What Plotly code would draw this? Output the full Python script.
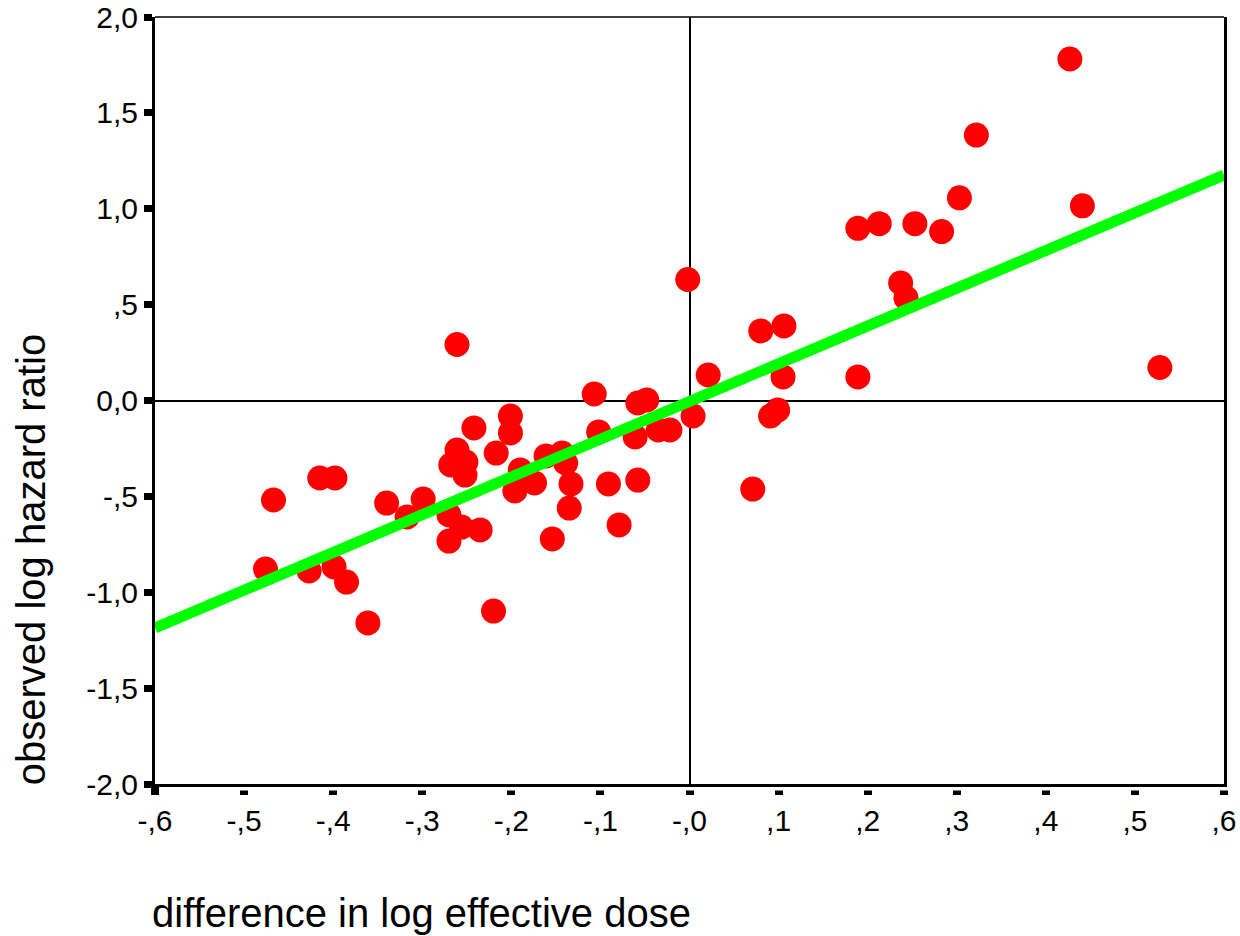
import plotly.graph_objects as go

x_vals = [0.427, 0.322, 0.303, 0.441, 0.189, 0.213, 0.253, 0.283, 0.237, 0.243,
          0.528, 0.189, -0.002, 0.080, 0.106, 0.021, 0.105, 0.099, 0.091, 0.004,
          0.071, -0.261, -0.107, -0.058, -0.048, -0.061, -0.035, -0.022, -0.102, -0.058,
          -0.091, -0.079, -0.154, -0.135, -0.133, -0.139, -0.143, -0.161, -0.174, -0.190,
          -0.196, -0.201, -0.201, -0.217, -0.242, -0.261, -0.251, -0.268, -0.252, -0.270,
          -0.256, -0.235, -0.270, -0.220, -0.361, -0.299, -0.317, -0.340, -0.415, -0.398,
          -0.467, -0.476, -0.427, -0.399, -0.385]
y_vals = [1.781, 1.384, 1.057, 1.015, 0.898, 0.922, 0.922, 0.881, 0.613, 0.535,
          0.172, 0.123, 0.631, 0.363, 0.389, 0.133, 0.123, -0.050, -0.081, -0.081,
          -0.462, 0.292, 0.034, -0.013, 0.003, -0.190, -0.154, -0.154, -0.164, -0.415,
          -0.435, -0.649, -0.722, -0.561, -0.435, -0.326, -0.274, -0.289, -0.430, -0.362,
          -0.472, -0.081, -0.169, -0.274, -0.143, -0.258, -0.321, -0.336, -0.389, -0.597,
          -0.660, -0.675, -0.733, -1.098, -1.160, -0.514, -0.607, -0.535, -0.404, -0.404,
          -0.519, -0.879, -0.889, -0.868, -0.947]

fit_x = [-0.6, 0.6]
fit_y = [-1.186, 1.176]

x_tickvals = [-0.6, -0.5, -0.4, -0.3, -0.2, -0.1, 0.0, 0.1, 0.2, 0.3, 0.4, 0.5, 0.6]
x_ticktext = ["-,6", "-,5", "-,4", "-,3", "-,2", "-,1", "-,0", ",1", ",2", ",3", ",4", ",5", ",6"]
y_tickvals = [2.0, 1.5, 1.0, 0.5, 0.0, -0.5, -1.0, -1.5, -2.0]
y_ticktext = ["2,0", "1,5", "1,0", ",5", "0,0", "-,5", "-1,0", "-1,5", "-2,0"]

x_title = "difference in log effective dose"
y_title = "observed log hazard ratio"

fig = go.Figure()
fig.add_trace(go.Scatter(x=x_vals, y=y_vals, mode="markers",
                         marker=dict(color="#ff0000", size=25, line=dict(width=0)),
                         showlegend=False, hoverinfo="skip"))
fig.add_trace(go.Scatter(x=fit_x, y=fit_y, mode="lines",
                         line=dict(color="#00ff00", width=11),
                         showlegend=False, hoverinfo="skip"))

font = "Liberation Sans, Arial, sans-serif"

shapes = [
    dict(type="line", xref="paper", yref="paper", x0=0, x1=1, y0=1, y1=1,
         line=dict(color="black", width=1.5)),
    # white strip to detach x tick marks from the axis line
    dict(type="rect", xref="paper", yref="paper", x0=0.004, x1=1.01,
         ysizemode="pixel", yanchor=0, y0=-3, y1=-6.5,
         line=dict(width=0), fillcolor="white", layer="above"),
]

fig.update_layout(
    width=1240, height=936,
    margin=dict(l=155, r=16, t=17, b=152),
    paper_bgcolor="white", plot_bgcolor="white",
    font=dict(family=font, color="black", size=30),
    xaxis=dict(range=[-0.6, 0.6], tickvals=x_tickvals, ticktext=x_ticktext,
               showgrid=False, zeroline=True, zerolinecolor="black", zerolinewidth=2,
               showline=True, linecolor="black", linewidth=3,
               ticks="outside", ticklen=8, tickwidth=8, tickcolor="black",
               tickfont=dict(size=30), automargin=False),
    yaxis=dict(range=[-2.0, 2.0], tickvals=y_tickvals, ticktext=y_ticktext,
               showgrid=False, zeroline=True, zerolinecolor="black", zerolinewidth=2,
               showline=True, linecolor="black", linewidth=3, mirror=True,
               ticks="outside", ticklen=8, tickwidth=7, tickcolor="black",
               tickfont=dict(size=30), automargin=False),
    shapes=shapes,
    annotations=[
        dict(text=x_title, xref="paper", yref="paper",
             x=-0.005, y=-0.168, xanchor="left", yanchor="middle", showarrow=False,
             font=dict(size=40)),
        dict(text=y_title, xref="paper", yref="paper", textangle=-90,
             x=-0.116, y=0.293, xanchor="center", yanchor="middle", showarrow=False,
             font=dict(size=40)),
    ],
)

fig.write_html("out.html")
